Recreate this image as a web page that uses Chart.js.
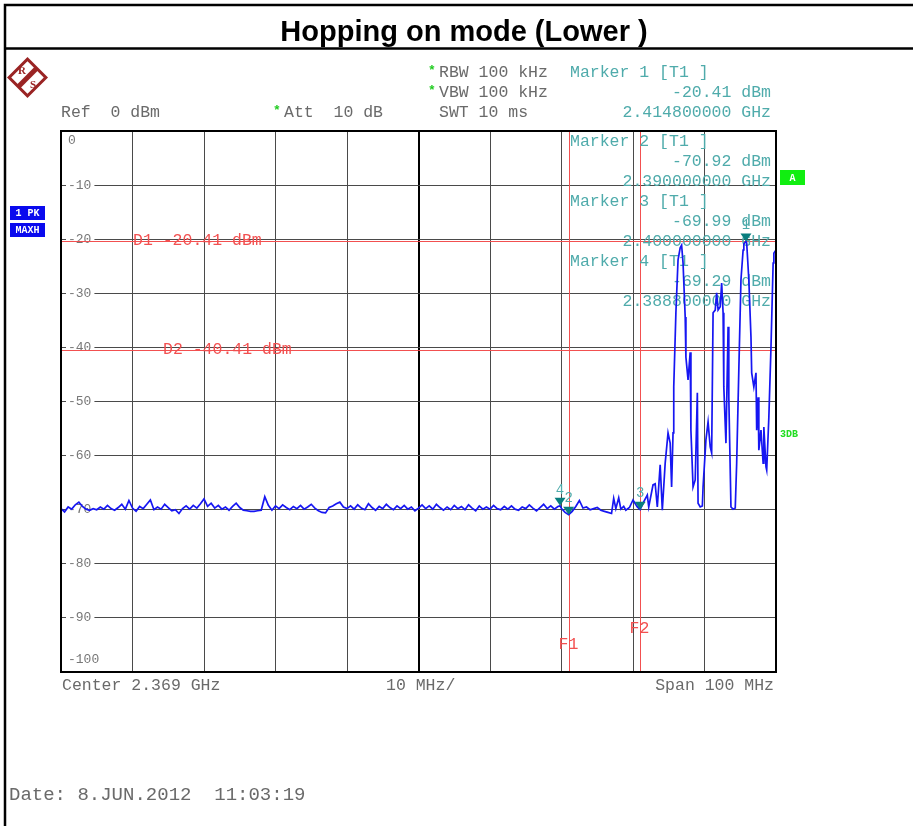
<!DOCTYPE html>
<html>
<head>
<meta charset="utf-8">
<title>Hopping on mode (Lower )</title>
<script src="https://cdn.jsdelivr.net/npm/chart.js@4.4.1/dist/chart.umd.min.js"></script>
<style>
  html, body { margin: 0; padding: 0; background: #fff; }
  canvas { display: block; }
</style>
</head>
<body>
<canvas id="spectrum" width="913" height="826"></canvas>
<script>
// sweep settings
const startMHz = 2319;          // center 2.369 GHz, span 100 MHz
const xGridMHz = [0, 10, 20, 30, 40, 50, 60, 70, 80, 90, 100];
const yGridDbm = [0, -10, -20, -30, -40, -50, -60, -70, -80, -90, -100];
const yTickLabels = ['0', '-10', '-20', '-30', '-40', '-50', '-60', '-70', '-80', '-90', '-100'];

// max-hold trace: [offset from start in MHz, level in dBm]
const tracePoints = [
  [0, -69.8], [0.5, -70.4], [1, -69.5], [1.5, -69.9], [2, -69.1], [2.5, -68.6], [3, -69.4], [3.5, -69.9],
  [4, -70.1], [4.5, -69.8], [5, -70.0], [5.5, -69.5], [6, -69.9], [6.5, -69.2], [7, -69.8], [7.5, -70.1],
  [8, -69.6], [8.5, -69.0], [9, -69.9], [9.5, -68.3], [10, -69.7], [10.5, -70.3], [11, -69.4], [11.5, -69.8],
  [12, -69.0], [12.5, -68.2], [13, -70.0], [13.5, -69.5], [14, -69.9], [14.5, -69.0], [15, -69.6], [15.5, -70.2],
  [16, -70.0], [16.5, -70.7], [17, -69.8], [17.5, -69.3], [18, -69.9], [18.5, -69.2], [19, -69.7], [19.5, -68.9],
  [20, -68.0], [20.5, -69.4], [21, -68.8], [21.5, -69.7], [22, -69.2], [22.5, -69.9], [23, -69.5], [23.5, -70.1],
  [24, -69.4], [24.5, -68.8], [25, -69.6], [25.5, -70.1], [26, -70.2], [26.5, -70.3], [27, -70.3], [27.5, -70.2],
  [28, -70.1], [28.5, -67.6], [29, -69.2], [29.5, -70.1], [30, -69.3], [30.5, -69.8], [31, -69.1], [31.5, -69.6],
  [32, -70.0], [32.5, -69.4], [33, -69.8], [33.5, -69.2], [34, -69.9], [34.5, -69.5], [35, -69.0], [35.5, -69.7],
  [36, -70.2], [36.5, -70.5], [37, -70.6], [37.5, -69.6], [38, -69.3], [38.5, -68.9], [39, -68.6], [39.5, -69.5],
  [40, -69.8], [40.5, -69.3], [41, -69.9], [41.5, -69.1], [42, -69.7], [42.5, -70.0], [43, -68.9], [43.5, -69.6],
  [44, -70.1], [44.5, -69.4], [45, -69.8], [45.5, -69.0], [46, -69.6], [46.5, -70.0], [47, -69.3], [47.5, -69.8],
  [48, -69.2], [48.5, -69.9], [49, -69.5], [49.5, -70.2], [50, -69.7], [50.5, -69.1], [51, -69.8], [51.5, -69.3],
  [52, -69.9], [52.5, -69.0], [53, -69.6], [53.5, -70.1], [54, -69.5], [54.5, -70.0], [55, -69.2], [55.5, -69.8],
  [56, -69.4], [56.5, -70.0], [57, -69.1], [57.5, -69.7], [58, -70.2], [58.5, -69.3], [59, -69.9], [59.5, -69.5],
  [60, -69.9], [60.5, -69.2], [61, -69.8], [61.5, -70.0], [62, -69.4], [62.5, -69.9], [63, -69.3], [63.5, -69.9],
  [64, -70.1], [64.5, -69.5], [65, -69.8], [65.5, -69.1], [66, -69.7], [66.5, -70.2], [67, -69.6], [67.5, -69.0],
  [68, -69.8], [68.5, -69.3], [69, -69.9], [69.5, -69.4], [69.8, -69.29], [70, -69.8], [70.5, -70.5], [71, -70.92],
  [71.5, -70.3], [72, -69.4], [72.5, -68.3], [73, -69.7], [73.5, -69.5], [74, -70.0], [74.5, -69.8], [75, -69.6],
  [75.5, -70.1], [76, -70.3], [76.5, -70.5], [77, -70.7], [77.3, -67.9], [77.6, -69.8], [78, -67.8], [78.3, -69.9],
  [78.7, -69.4], [79, -70.1], [79.5, -69.6], [80, -68.2], [80.6, -69.5], [81, -69.99], [81.4, -68.8], [82, -67.3],
  [82.2, -69.5], [82.8, -65.4], [83.1, -65.2], [83.4, -69.5], [83.8, -61.7], [84.1, -70.1], [84.5, -61.4], [84.9, -55.8],
  [85.2, -57.7], [85.4, -65.8], [85.6, -55.8], [85.7, -47.3], [86, -33.6], [86.3, -23.8], [86.6, -21.6], [86.8, -21.1],
  [87, -24.4], [87.3, -34.4], [87.4, -41.8], [87.7, -46.0], [88, -40.9], [88.1, -55.3], [88.4, -65.8], [88.7, -64.5],
  [89, -48.4], [89.1, -68.8], [89.4, -69.5], [89.7, -69.3], [89.8, -65.8], [90.2, -57.1], [90.5, -53.8], [90.8, -58.4],
  [91, -59.5], [91.2, -33.6], [91.5, -33.1], [91.7, -29.9], [91.9, -33.1], [92.2, -32.5], [92.4, -28.1], [92.6, -33.6],
  [92.7, -47.3], [93, -57.7], [93.3, -36.2], [93.4, -49.2], [93.7, -69.5], [94, -69.9], [94.3, -69.7], [94.5, -61.4],
  [94.8, -44.2], [95.1, -27.5], [95.4, -22.0], [95.5, -20.9], [95.8, -20.41], [95.9, -20.7], [96.2, -27.5], [96.5, -38.1],
  [96.6, -44.7], [96.9, -47.3], [97.2, -44.7], [97.3, -55.3], [97.5, -49.2], [97.6, -59.0], [97.9, -55.3], [98.2, -61.4],
  [98.3, -54.7], [98.6, -62.1], [98.7, -62.7], [99, -52.9], [99.3, -39.9], [99.6, -24.4], [99.7, -22.6], [100, -22.0]
];

// markers (T1)
const markerNames = ['1', '2', '3', '4'];
const markerGHz = [2.4148, 2.39, 2.4, 2.3888];
const markerDbm = [-20.41, -70.92, -69.99, -69.29];
const markerFreqText = ['2.414800000 GHz', '2.390000000 GHz', '2.400000000 GHz', '2.388800000 GHz'];

// display lines
const displayLineNames = ['D1', 'D2'];
const displayLineDbm = [-20.41, -40.41];
const freqLineNames = ['F1', 'F2'];
const freqLineGHz = [2.390, 2.400];

const MONO = '"Liberation Mono", "DejaVu Sans Mono", monospace';
const GREY = '#6a6a6a';
const TEAL = '#4fabab';
const RED = '#f25050';
const LOGO = '#9a2424';

const toOffset = ghz => ghz * 1000 - startMHz;

function txt(ctx, s, x, y, color, align, font) {
  ctx.font = font || ('16.5px ' + MONO);
  ctx.fillStyle = color;
  ctx.textAlign = align || 'left';
  ctx.textBaseline = 'middle';
  ctx.fillText(s, x, y);
}

function markerValueText(v) {
  return v.toFixed(2) + ' dBm';
}

const analyzerDecor = {
  id: 'analyzerDecor',
  beforeDatasetsDraw(chart) {
    const { ctx, chartArea: a, scales: { x, y } } = chart;
    ctx.save();

    // level labels inside the grid, on a white backing
    ctx.font = '13px ' + MONO;
    yGridDbm.forEach((v, i) => {
      let py = y.getPixelForValue(v);
      if (i === 0) py += 10;
      if (i === yGridDbm.length - 1) py -= 12;
      const w = ctx.measureText(yTickLabels[i]).width;
      ctx.fillStyle = '#fff';
      ctx.fillRect(a.left + 5, py - 4, w + 5, 8);
      txt(ctx, yTickLabels[i], a.left + 7, py, '#777', 'left', '13px ' + MONO);
    });

    // display lines D1 / D2
    ctx.lineWidth = 1;
    ctx.strokeStyle = RED;
    displayLineDbm.forEach((v, i) => {
      const py = Math.round(y.getPixelForValue(v)) + 0.5;
      ctx.beginPath();
      ctx.moveTo(a.left, py);
      ctx.lineTo(a.right, py);
      ctx.stroke();
      const lx = i === 0 ? 133 : 163;
      txt(ctx, displayLineNames[i] + ' ' + markerValueText(v), lx, py - 1, RED);
    });

    // frequency lines F1 / F2
    freqLineGHz.forEach((f, i) => {
      const px = Math.round(x.getPixelForValue(toOffset(f))) + 0.5;
      ctx.strokeStyle = RED;
      ctx.beginPath();
      ctx.moveTo(px, a.top);
      ctx.lineTo(px, a.bottom);
      ctx.stroke();
      txt(ctx, freqLineNames[i], px - 1, i === 0 ? 645 : 629, RED, 'center');
    });

    // marker readouts 2..4 inside the grid
    for (let i = 1; i < markerNames.length; i++) {
      const top = 142 + (i - 1) * 60;
      txt(ctx, 'Marker ' + markerNames[i] + ' [T1 ]', 570, top, TEAL);
      txt(ctx, markerValueText(markerDbm[i]), 771, top + 19.5, TEAL, 'right');
      txt(ctx, markerFreqText[i], 771, top + 39.5, TEAL, 'right');
    }
    ctx.restore();
  },
  afterDatasetsDraw(chart) {
    const { ctx, chartArea: a, scales: { x, y } } = chart;
    ctx.save();
    // marker symbols
    markerGHz.forEach((f, i) => {
      const px = x.getPixelForValue(toOffset(f));
      const py = y.getPixelForValue(markerDbm[i]);
      ctx.fillStyle = '#087e7e';
      ctx.beginPath();
      ctx.moveTo(px, py);
      ctx.lineTo(px - 5.5, py - 8);
      ctx.lineTo(px + 5.5, py - 8);
      ctx.closePath();
      ctx.fill();
      txt(ctx, markerNames[i], px, py - 16, TEAL, 'center', '14px ' + MONO);
    });
    // grid frame
    ctx.strokeStyle = '#000';
    ctx.lineWidth = 2;
    ctx.strokeRect(a.left, a.top, a.right - a.left, a.bottom - a.top);
    ctx.restore();
  },
  afterDraw(chart) {
    const { ctx, width } = chart;
    ctx.save();
    // page frame and title row
    ctx.strokeStyle = '#000';
    ctx.lineWidth = 2.5;
    ctx.beginPath();
    ctx.moveTo(5, 826);
    ctx.lineTo(5, 5);
    ctx.lineTo(width, 5);
    ctx.moveTo(5, 48.5);
    ctx.lineTo(width, 48.5);
    ctx.stroke();
    txt(ctx, 'Hopping on mode (Lower )', 464, 33, '#000', 'center', 'bold 29px "Liberation Sans", Arial, sans-serif');

    // R&S logo
    ctx.save();
    ctx.translate(27.5, 77.5);
    ctx.rotate(Math.PI / 4);
    ctx.strokeStyle = LOGO;
    ctx.lineWidth = 3;
    ctx.strokeRect(-13, -13, 26, 26);
    ctx.fillStyle = LOGO;
    ctx.fillRect(-2.5, -13, 5, 26);
    ctx.restore();
    txt(ctx, 'R', 22, 71, LOGO, 'center', 'bold 11px "Liberation Serif", serif');
    txt(ctx, 'S', 33, 85, LOGO, 'center', 'bold 11px "Liberation Serif", serif');

    // trace / detector badges
    ctx.fillStyle = '#0a0aee';
    ctx.fillRect(10, 206, 35, 14);
    ctx.fillRect(10, 223, 35, 14);
    txt(ctx, '1 PK', 27.5, 213.5, '#fff', 'center', 'bold 10px ' + MONO);
    txt(ctx, 'MAXH', 27.5, 230.5, '#fff', 'center', 'bold 10px ' + MONO);
    ctx.fillStyle = '#11ee11';
    ctx.fillRect(780, 170, 25, 15);
    txt(ctx, 'A', 792.5, 178, '#fff', 'center', 'bold 10px ' + MONO);
    txt(ctx, '3DB', 780, 434, '#22dd22', 'left', 'bold 10px ' + MONO);

    // header
    txt(ctx, 'Ref  0 dBm', 61, 113, GREY);
    txt(ctx, '*', 277, 111, '#22cc22', 'center', 'bold 13px ' + MONO);
    txt(ctx, 'Att  10 dB', 284, 113, GREY);
    txt(ctx, '*', 432, 71, '#22cc22', 'center', 'bold 13px ' + MONO);
    txt(ctx, 'RBW 100 kHz', 439, 73, GREY);
    txt(ctx, '*', 432, 91, '#22cc22', 'center', 'bold 13px ' + MONO);
    txt(ctx, 'VBW 100 kHz', 439, 93, GREY);
    txt(ctx, 'SWT 10 ms', 439, 113, GREY);
    txt(ctx, 'Marker ' + markerNames[0] + ' [T1 ]', 570, 73, TEAL);
    txt(ctx, markerValueText(markerDbm[0]), 771, 93, TEAL, 'right');
    txt(ctx, markerFreqText[0], 771, 113, TEAL, 'right');

    // footer
    txt(ctx, 'Center 2.369 GHz', 62, 686, GREY);
    txt(ctx, '10 MHz/', 386, 686, GREY);
    txt(ctx, 'Span 100 MHz', 774, 686, GREY, 'right');
    txt(ctx, 'Date: 8.JUN.2012  11:03:19', 9, 795, GREY, 'left', '19px ' + MONO);
    ctx.restore();
  }
};

const gridColor = ctx => (ctx.tick && ctx.tick.value === 50 ? '#000' : '#4a4a4a');
const gridWidth = ctx => (ctx.tick && ctx.tick.value === 50 ? 2 : 1);

new Chart(document.getElementById('spectrum'), {
  type: 'line',
  data: {
    datasets: [{
      label: '1 PK MAXH',
      data: tracePoints.map(p => ({ x: p[0], y: p[1] })),
      borderColor: '#1616f2',
      borderWidth: 1.7,
      pointRadius: 0,
      tension: 0,
      fill: false
    }]
  },
  options: {
    responsive: false,
    devicePixelRatio: 1,
    animation: false,
    layout: { padding: { left: 61, top: 131, right: 137, bottom: 154 } },
    plugins: { legend: { display: false }, tooltip: { enabled: false } },
    scales: {
      x: {
        type: 'linear',
        min: 0,
        max: 100,
        afterBuildTicks: s => { s.ticks = xGridMHz.map(v => ({ value: v })); },
        ticks: { display: false },
        grid: { color: gridColor, lineWidth: gridWidth, drawTicks: false },
        border: { display: false }
      },
      y: {
        min: -100,
        max: 0,
        afterBuildTicks: s => { s.ticks = yGridDbm.map(v => ({ value: v })); },
        ticks: { display: false },
        grid: { color: '#4a4a4a', lineWidth: 1, drawTicks: false },
        border: { display: false }
      }
    }
  },
  plugins: [analyzerDecor]
});
</script>
</body>
</html>
